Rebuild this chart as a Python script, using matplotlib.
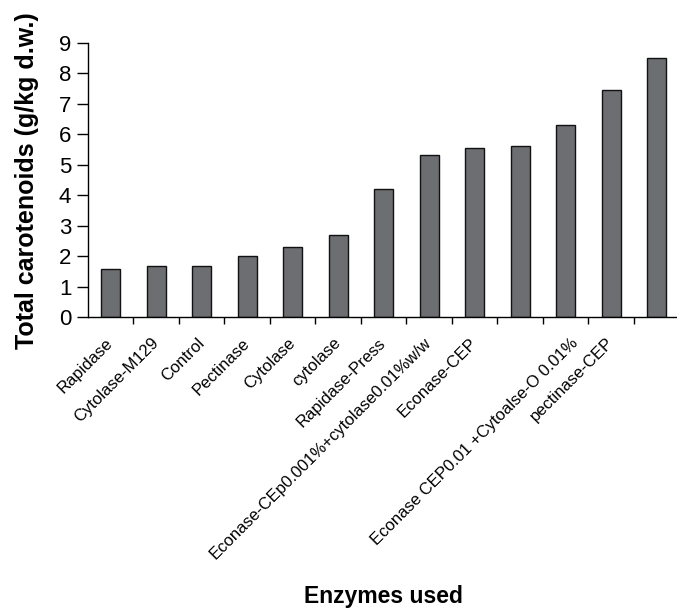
import matplotlib
matplotlib.use('Agg')
import matplotlib.pyplot as plt
import matplotlib.transforms as mtransforms
import numpy as np

plt.rcParams['font.family'] = ['Liberation Sans', 'DejaVu Sans']

enzymes = ['Rapidase', 'Cytolase-M129', 'Control', 'Pectinase', 'Cytolase',
           'cytolase', 'Rapidase-Press', 'Econase-CEp0.001%+cytolase0.01%w/w',
           'Econase-CEP', '', 'Econase CEP0.01 +Cytoalse-O 0.01%',
           'pectinase-CEP', '']
carotenoids = [1.58, 1.68, 1.68, 1.99, 2.30, 2.70, 4.20, 5.32, 5.53, 5.62,
               6.30, 7.44, 8.50]

fig = plt.figure(figsize=(6.77, 6.11), dpi=100)
ax = fig.add_axes([0.130, 0.4812, 0.870, 0.4489])

x = np.arange(len(carotenoids))
ax.bar(x, carotenoids, width=0.42, color='#6d6e71', edgecolor='#111111', linewidth=1)

ax.set_xlim(-0.5, 12.45)
ax.set_ylim(0, 9)
ax.set_yticks(range(0, 10))
ax.tick_params(axis='y', labelsize=16, length=8, width=1, direction='out', pad=4)

# category labels at centres, tick marks at the boundaries
ax.set_xticks(x)
ax.set_xticklabels(enzymes, rotation=45, ha='right', va='center',
                   rotation_mode='anchor', fontsize=12)
ax.tick_params(axis='x', which='major', length=0, pad=17)
ax.set_xticks(np.arange(0.5, 12.5, 1), minor=True)
ax.tick_params(axis='x', which='minor', length=5, width=1, direction='out')

# the long Econase/Cytoalse label sits a little to the right in the original
lbl = ax.get_xticklabels()[10]
lbl.set_transform(lbl.get_transform() +
                  mtransforms.ScaledTranslation(10 / 100, 0, fig.dpi_scale_trans))

ax.spines['top'].set_visible(False)
ax.spines['right'].set_visible(False)
ax.spines['left'].set_linewidth(1)
ax.spines['bottom'].set_linewidth(1)

fig.text(383 / 677, 1 - 597 / 611, 'Enzymes used', fontsize=16.5,
         fontweight='bold', ha='center', va='center')
fig.text(27 / 677, 1 - 181 / 611, 'Total carotenoids (g/kg d.w.)', fontsize=18,
         fontweight='bold', rotation=90, ha='center', va='center')

fig.savefig('out.png', dpi=100)
